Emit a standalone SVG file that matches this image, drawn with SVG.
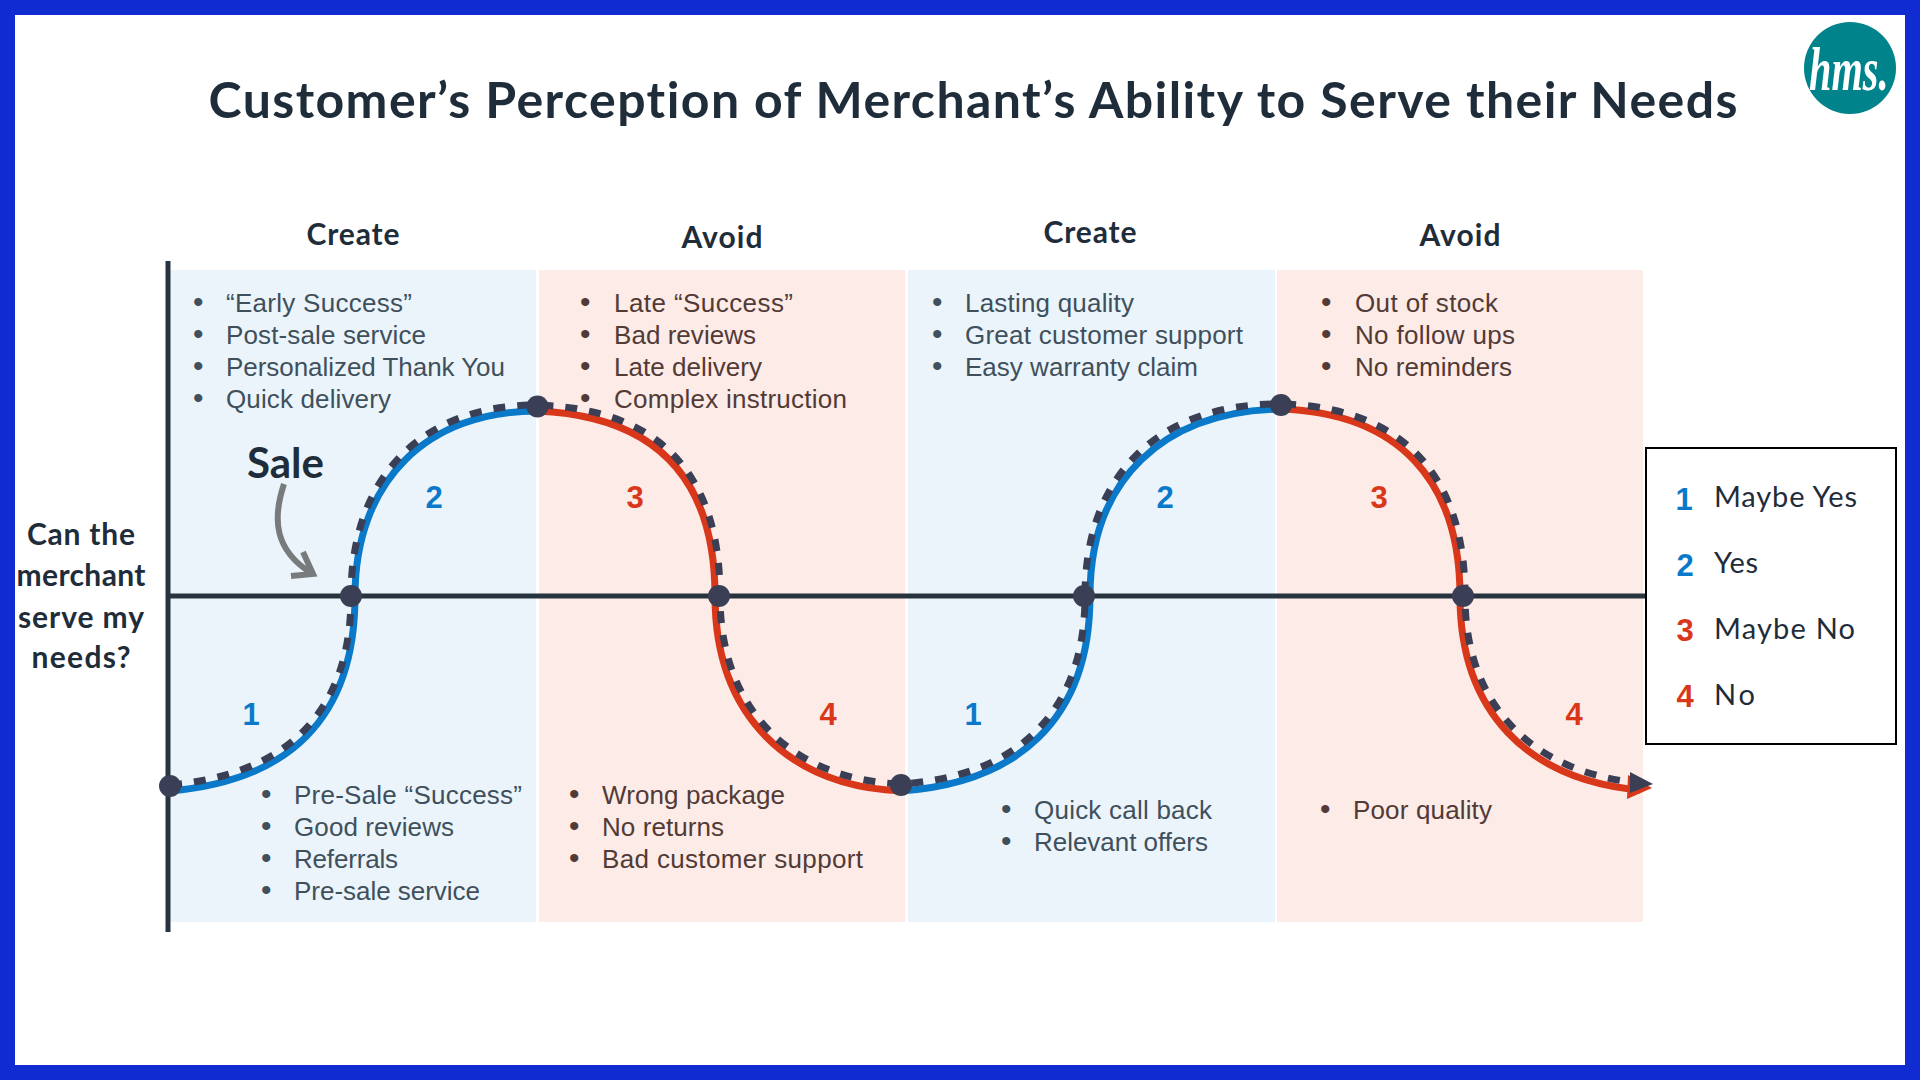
<svg xmlns="http://www.w3.org/2000/svg" width="1920" height="1080" viewBox="0 0 1920 1080">
<style>
text{font-variant-ligatures:none}
.hd{font-family:"Lato","Noto Sans",sans-serif;font-weight:700;fill:#1f2d3a;text-anchor:middle}
.h{font-size:30px}
.b{font-family:"Liberation Sans",Arial,sans-serif;font-size:26px}
.d{font-size:30px}
.bl{fill:#3f505c}.rd{fill:#523a36}
.n{font-family:"Liberation Sans",Arial,sans-serif;font-weight:700;font-size:31px;text-anchor:middle}
.nb{fill:#0a79c9}.nr{fill:#d9371a}
.lg{font-family:"Lato","Noto Sans",sans-serif;font-size:29px;fill:#1f2d3a}
.sb{fill:none;stroke:#0a79c9;stroke-width:7}
.sr{fill:none;stroke:#d9371a;stroke-width:7}
.dash{fill:none;stroke:#3b3f55;stroke-width:7;stroke-dasharray:12 12}
.dot{fill:#3b3f55}
</style>
<rect id="background" width="1920" height="1080" fill="#102bd0"/>
<rect x="15" y="15" width="1890" height="1050" fill="#fff"/>
<g id="panels">
<rect x="170" y="270" width="366" height="652" fill="#eaf4fa"/>
<rect x="539" y="270" width="366" height="652" fill="#fcebe6"/>
<rect x="908" y="270" width="367" height="652" fill="#eaf4fa"/>
<rect x="1277" y="270" width="366" height="652" fill="#fcebe6"/>
</g>
<text id="title" x="973" y="118" class="hd" style="font-size:50px" textLength="1529" lengthAdjust="spacing">Customer’s Perception of Merchant’s Ability to Serve their Needs</text>
<g id="logo"><circle cx="1850" cy="68" r="46" fill="#00838a"/><text transform="translate(1809 90) scale(.65 1)" font-family="'Liberation Serif',serif" font-style="italic" font-weight="700" font-size="62" fill="#fff">hms.</text></g>
<g id="headers">
<text x="353" y="245" class="hd h" textLength="93">Create</text>
<text x="722" y="248" class="hd h" textLength="81">Avoid</text>
<text x="1090" y="243" class="hd h" textLength="93">Create</text>
<text x="1460" y="246" class="hd h" textLength="81">Avoid</text>
</g>
<g id="y-label">
<text x="81" y="545" class="hd h" textLength="108">Can the</text>
<text x="81" y="586" class="hd h" textLength="129">merchant</text>
<text x="81" y="628" class="hd h" textLength="126">serve my</text>
<text x="81" y="668" class="hd h" textLength="99">needs?</text>
</g>
<g id="axes" stroke="#27333f" stroke-width="5" fill="none">
<path d="M168 261V932"/>
<path d="M168 596H1647"/>
</g>
<g id="connectors">
<path class="sb" d="M170 791C287 781 355 720 355 596C355 480 428 411 537 411"/>
<path class="sr" d="M537 411C658 416 715 480 715 596C715 715 788 786 901 791"/>
<path class="sb" d="M901 791C1017 783 1090 720 1090 596C1090 480 1163 411 1281 409"/>
<path class="sr" d="M1281 409C1398 413 1460 480 1460 596C1460 712 1528 780 1640 790"/>
<polygon points="1628,775 1652,788 1627,799" fill="#d9371a"/>
<path class="dash" d="M170 785C283 775 351 716 351 596C351 476 423 405 537 405C662 409 720 476 720 596C720 711 793 780 901 784C1013 777 1085 716 1085 596C1085 476 1158 403 1281 404C1403 407 1465 476 1465 596C1465 706 1533 773 1640 783"/>
<polygon points="1630,772 1653,784 1630,793" fill="#3b3f55"/>
<g class="dot">
<circle cx="170" cy="786" r="11"/><circle cx="351" cy="596" r="11"/><circle cx="537.500" cy="406.500" r="11"/><circle cx="719" cy="596" r="11"/><circle cx="901" cy="785" r="11"/><circle cx="1084" cy="596" r="11"/><circle cx="1281" cy="405" r="11"/><circle cx="1463" cy="596" r="11"/>
</g>
</g>
<g id="sale">
<text x="247" y="478" class="hd" style="font-size:42px;text-anchor:start">Sale</text>
<path d="M284 484C272 520 275 550 311 573M303 552L313 574L291 576" fill="none" stroke="#777b7c" stroke-width="6"/>
</g>
<g id="curve-numbers">
<text x="251" y="725" class="n nb">1</text><text x="434" y="508" class="n nb">2</text><text x="635" y="508" class="n nr">3</text><text x="828" y="725" class="n nr">4</text>
<text x="973" y="725" class="n nb">1</text><text x="1165" y="508" class="n nb">2</text><text x="1379" y="508" class="n nr">3</text><text x="1574" y="725" class="n nr">4</text>
</g>
<g id="list-1" class="b bl">
<text x="193" y="312" class="d">•</text><text x="226" y="312" textLength="186">“Early Success”</text>
<text x="193" y="344" class="d">•</text><text x="226" y="344" textLength="200">Post-sale service</text>
<text x="193" y="376" class="d">•</text><text x="226" y="376" textLength="279">Personalized Thank You</text>
<text x="193" y="408" class="d">•</text><text x="226" y="408" textLength="165">Quick delivery</text>
</g>
<g id="list-2" class="b bl">
<text x="261" y="804" class="d">•</text><text x="294" y="804" textLength="228">Pre-Sale “Success”</text>
<text x="261" y="836" class="d">•</text><text x="294" y="836" textLength="160">Good reviews</text>
<text x="261" y="868" class="d">•</text><text x="294" y="868" textLength="104">Referrals</text>
<text x="261" y="900" class="d">•</text><text x="294" y="900" textLength="186">Pre-sale service</text>
</g>
<g id="list-3" class="b rd">
<text x="580" y="312" class="d">•</text><text x="614" y="312" textLength="179">Late “Success”</text>
<text x="580" y="344" class="d">•</text><text x="614" y="344" textLength="142">Bad reviews</text>
<text x="580" y="376" class="d">•</text><text x="614" y="376" textLength="148">Late delivery</text>
<text x="580" y="408" class="d">•</text><text x="614" y="408" textLength="233">Complex instruction</text>
</g>
<g id="list-4" class="b rd">
<text x="569" y="804" class="d">•</text><text x="602" y="804" textLength="183">Wrong package</text>
<text x="569" y="836" class="d">•</text><text x="602" y="836" textLength="122">No returns</text>
<text x="569" y="868" class="d">•</text><text x="602" y="868" textLength="261">Bad customer support</text>
</g>
<g id="list-5" class="b bl">
<text x="932" y="312" class="d">•</text><text x="965" y="312" textLength="169">Lasting quality</text>
<text x="932" y="344" class="d">•</text><text x="965" y="344" textLength="278">Great customer support</text>
<text x="932" y="376" class="d">•</text><text x="965" y="376" textLength="233">Easy warranty claim</text>
</g>
<g id="list-6" class="b bl">
<text x="1001" y="819" class="d">•</text><text x="1034" y="819" textLength="178">Quick call back</text>
<text x="1001" y="851" class="d">•</text><text x="1034" y="851" textLength="174">Relevant offers</text>
</g>
<g id="list-7" class="b rd">
<text x="1321" y="312" class="d">•</text><text x="1355" y="312" textLength="143">Out of stock</text>
<text x="1321" y="344" class="d">•</text><text x="1355" y="344" textLength="160">No follow ups</text>
<text x="1321" y="376" class="d">•</text><text x="1355" y="376" textLength="157">No reminders</text>
</g>
<g id="list-8" class="b rd">
<text x="1320" y="819" class="d">•</text><text x="1353" y="819" textLength="139">Poor quality</text>
</g>
<g id="legend">
<rect x="1646" y="448" width="250" height="296" fill="#fff" stroke="#000" stroke-width="2"/>
<text x="1684" y="510" class="n nb">1</text><text x="1714" y="507" class="lg" textLength="143">Maybe Yes</text>
<text x="1685" y="576" class="n nb">2</text><text x="1714" y="573" class="lg" textLength="44">Yes</text>
<text x="1685" y="641" class="n nr">3</text><text x="1714" y="639" class="lg" textLength="141">Maybe No</text>
<text x="1685" y="707" class="n nr">4</text><text x="1714" y="705" class="lg" textLength="41">No</text>
</g>
</svg>
